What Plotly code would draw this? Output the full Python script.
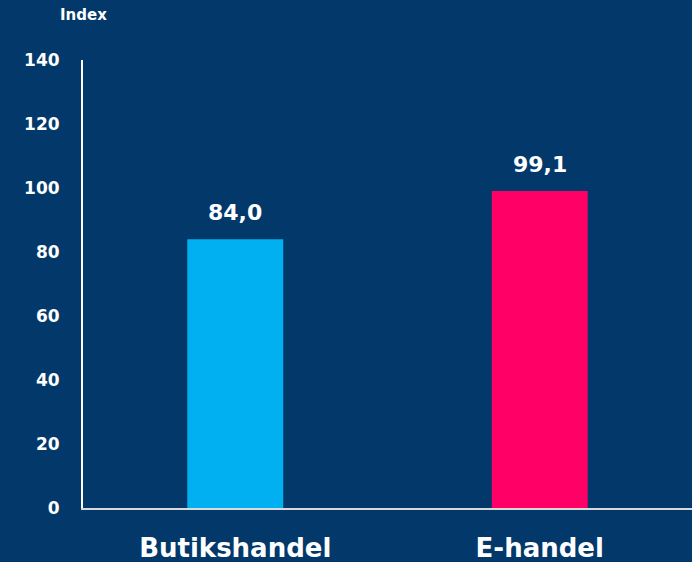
import plotly.graph_objects as go

categories = ["Butikshandel", "E-handel"]
values = [84.0, 99.1]
bar_colors = ["#00B0F0", "#FF0066"]
value_labels = ["84,0", "99,1"]
y_ticks = [0, 20, 40, 60, 80, 100, 120, 140]

BG = "#02386A"
FONT = "DejaVu Sans"

fig = go.Figure()
fig.add_trace(go.Bar(
    x=categories, y=values,
    marker=dict(color=bar_colors, line=dict(width=0)),
    hoverinfo="skip",
))

for c, v, t in zip(categories, values, value_labels):
    fig.add_annotation(
        x=c, y=v, xref="x", yref="y", text=t, showarrow=False,
        yanchor="bottom", yshift=12,
        font=dict(family=FONT, size=22, color="white", weight="bold"),
    )

fig.add_annotation(
    x=0, y=1.1004, xref="paper", yref="paper", text="Index", showarrow=False,
    xanchor="center", yanchor="middle",
    font=dict(family=FONT, size=15, color="white", weight="bold"),
)

fig.update_layout(
    width=692, height=562,
    paper_bgcolor=BG, plot_bgcolor=BG,
    margin=dict(l=83, r=0, t=60, b=54),
    bargap=0.685,
    showlegend=False,
    xaxis=dict(
        showgrid=False, showline=True, linecolor="#D9D9D9", linewidth=2,
        ticks="", tickfont=dict(family=FONT, size=26, color="white", weight="bold"),
        ticklabelstandoff=16,
    ),
    yaxis=dict(
        range=[0, 140], tickvals=y_ticks, showgrid=False, zeroline=False,
        showline=True, linecolor="white", linewidth=2,
        ticks="", tickfont=dict(family=FONT, size=17, color="white", weight="bold"),
        ticklabelstandoff=18,
    ),
)

fig.write_html(
    "out.html",
    config={"displayModeBar": False},
    post_script="document.body.style.margin='0';document.body.style.padding='0';",
)
